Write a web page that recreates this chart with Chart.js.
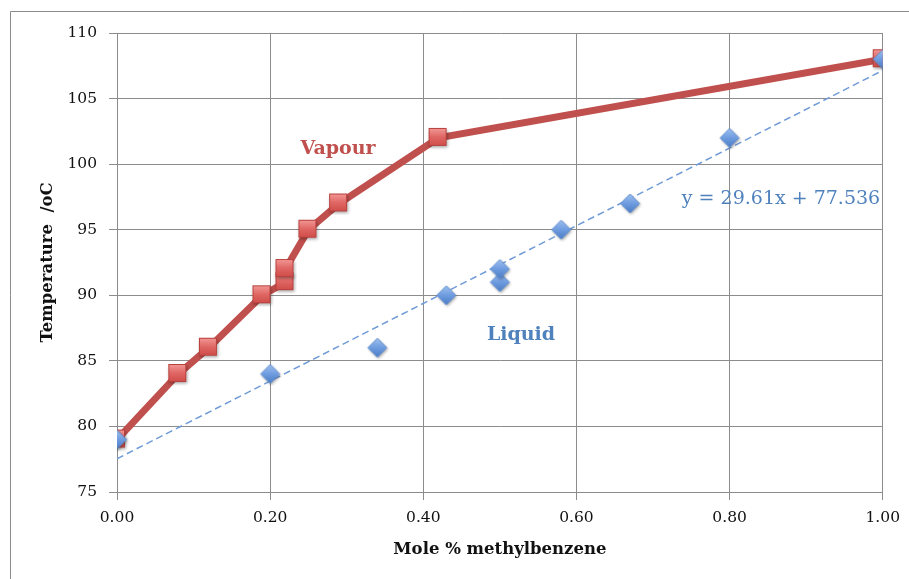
<!DOCTYPE html>
<html>
<head>
<meta charset="utf-8">
<script src="https://cdn.jsdelivr.net/npm/chart.js@4/dist/chart.umd.min.js"></script>
<style>
  html, body { margin: 0; padding: 0; background: #fff; }
  #wrap { width: 909px; height: 579px; position: relative; }
</style>
</head>
<body>
<div id="wrap"><canvas id="chart" width="909" height="579"></canvas></div>
<script>
/* vapour / liquid composition vs. boiling temperature */
const vapourX = [0.00, 0.08, 0.12, 0.19, 0.22, 0.22, 0.25, 0.29, 0.42, 1.00];
const vapourT = [79, 84, 86, 90, 91, 92, 95, 97, 102, 108];
const liquidX = [0.00, 0.20, 0.34, 0.43, 0.50, 0.50, 0.58, 0.67, 0.80, 1.00];
const liquidT = [79, 84, 86, 90, 91, 92, 95, 97, 102, 108];

// linear trendline through the liquid points
const slope = 29.61;
const intercept = 77.536;
const trendX = [0, 1];

const xTicks = [0, 0.2, 0.4, 0.6, 0.8, 1.0];
const yTicks = [75, 80, 85, 90, 95, 100, 105, 110];

const RED = '#c0504d';
const BLUE = '#4f81bd';
const SERIF = '"DejaVu Serif", "Liberation Serif", serif';

const toPts = (xs, ys) => xs.map((x, i) => ({ x, y: ys[i] }));

// square marker with a soft gradient and drop shadow
function squareMarker(size) {
  const c = document.createElement('canvas');
  c.width = c.height = size + 6;
  const g = c.getContext('2d');
  const o = 2;
  g.shadowColor = 'rgba(0,0,0,0.35)';
  g.shadowBlur = 3; g.shadowOffsetX = 1; g.shadowOffsetY = 1.5;
  const grad = g.createLinearGradient(0, o, 0, o + size);
  grad.addColorStop(0, '#f29a98');
  grad.addColorStop(0.5, '#e06764');
  grad.addColorStop(1, '#cf4c49');
  g.fillStyle = grad;
  g.fillRect(o, o, size, size);
  g.shadowColor = 'transparent';
  g.strokeStyle = '#b8403d';
  g.lineWidth = 1;
  g.strokeRect(o + 0.5, o + 0.5, size - 1, size - 1);
  return c;
}

function diamondMarker(size) {
  const c = document.createElement('canvas');
  c.width = c.height = size + 6;
  const g = c.getContext('2d');
  const m = (size + 6) / 2, h = size / 2;
  g.shadowColor = 'rgba(0,0,0,0.35)';
  g.shadowBlur = 3; g.shadowOffsetX = 1; g.shadowOffsetY = 1.5;
  const grad = g.createLinearGradient(0, m - h, 0, m + h);
  grad.addColorStop(0, '#9dc0ef');
  grad.addColorStop(0.5, '#6f9ce0');
  grad.addColorStop(1, '#4a7cc4');
  g.beginPath();
  g.moveTo(m, m - h); g.lineTo(m + h, m); g.lineTo(m, m + h); g.lineTo(m - h, m);
  g.closePath();
  g.fillStyle = grad;
  g.fill();
  g.shadowColor = 'transparent';
  g.strokeStyle = '#5d8ccf';
  g.lineWidth = 1;
  g.stroke();
  return c;
}

// frame around the whole chart plus the in-plot text labels
const annotations = {
  id: 'annotations',
  beforeDraw(chart) {
    const { ctx } = chart;
    ctx.save();
    ctx.fillStyle = '#fff';
    ctx.fillRect(0, 0, chart.width, chart.height);
    ctx.strokeStyle = '#8c8c8c';
    ctx.lineWidth = 1;
    ctx.beginPath();
    ctx.moveTo(10.5, chart.height);
    ctx.lineTo(10.5, 11.5);
    ctx.lineTo(chart.width, 11.5);
    ctx.stroke();
    ctx.restore();
  },
  afterDraw(chart) {
    const { ctx } = chart;
    ctx.save();
    ctx.textAlign = 'center';
    ctx.textBaseline = 'middle';
    ctx.font = 'bold 19px ' + SERIF;
    ctx.fillStyle = RED;
    ctx.fillText('Vapour', 338, 149);
    ctx.fillStyle = BLUE;
    ctx.fillText('Liquid', 521, 335);
    ctx.font = '19px ' + SERIF;
    ctx.fillStyle = '#4f81bd';
    ctx.fillText('y = ' + slope + 'x + ' + intercept, 781, 199);
    ctx.restore();
  }
};

new Chart(document.getElementById('chart'), {
  type: 'scatter',
  data: {
    datasets: [
      {
        label: 'Liquid',
        data: toPts(liquidX, liquidT),
        pointStyle: diamondMarker(19),
        pointRadius: 10,
        showLine: false
      },
      {
        label: 'Linear (Liquid)',
        data: trendX.map(x => ({ x, y: slope * x + intercept })),
        showLine: true,
        borderColor: '#6f9bd6',
        borderWidth: 1.5,
        borderDash: [7, 4],
        pointRadius: 0
      },
      {
        label: 'Vapour',
        data: toPts(vapourX, vapourT),
        showLine: true,
        borderColor: RED,
        borderWidth: 7,
        pointStyle: squareMarker(18),
        pointRadius: 10
      }
    ]
  },
  options: {
    responsive: false,
    animation: false,
    layout: { padding: { top: 33, right: 26, left: 0, bottom: 0 } },
    plugins: { legend: { display: false }, tooltip: { enabled: false } },
    scales: {
      x: {
        type: 'linear',
        min: 0, max: 1,
        afterBuildTicks: s => { s.ticks = xTicks.map(v => ({ value: v })); },
        afterFit: s => { s.height = 87; },
        grid: { color: '#8c8c8c', lineWidth: 1, tickLength: 8, drawTicks: true },
        border: { color: '#8c8c8c' },
        ticks: {
          color: '#111', padding: 9,
          font: { family: SERIF, size: 15.5 },
          callback: v => Number(v).toFixed(2),
          maxRotation: 0
        },
        title: {
          display: true, text: 'Mole % methylbenzene', color: '#111',
          font: { family: SERIF, size: 16.5, weight: 'bold' },
          padding: { top: 0, bottom: 19 }
        }
      },
      y: {
        type: 'linear',
        min: 75, max: 110,
        afterBuildTicks: s => { s.ticks = yTicks.map(v => ({ value: v })); },
        afterFit: s => { s.width = 117; },
        grid: { color: '#8c8c8c', lineWidth: 1, tickLength: 8 },
        border: { color: '#8c8c8c' },
        ticks: {
          color: '#111', padding: 12,
          font: { family: SERIF, size: 15.5 }
        },
        title: {
          display: true, text: 'Temperature  /oC', color: '#111',
          font: { family: SERIF, size: 16.5, weight: 'bold' },
          padding: { top: 38, bottom: 0 }
        }
      }
    }
  },
  plugins: [annotations]
});
</script>
</body>
</html>
